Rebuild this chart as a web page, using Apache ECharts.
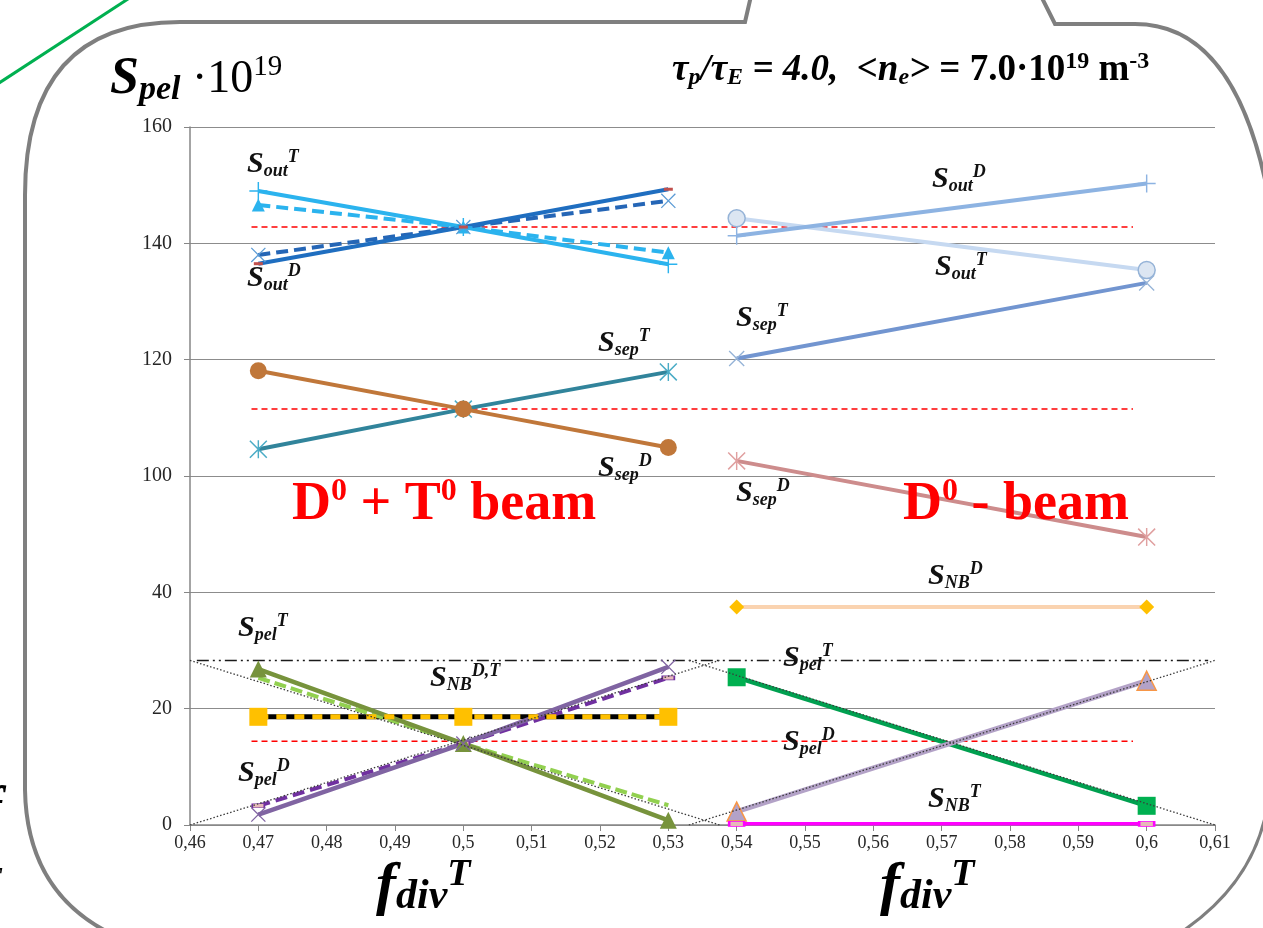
<!DOCTYPE html>
<html>
<head>
<meta charset="utf-8">
<script src="https://cdn.jsdelivr.net/npm/echarts@6/dist/echarts.min.js"></script>
<style>
  html, body { margin: 0; padding: 0; background: #fff; }
  #chart { width: 1263px; height: 928px; }
</style>
</head>
<body>
<div id="chart"></div>
<script>
  // x positions (f_div^T)
  const xDT = [0.47, 0.5, 0.53];   // D0 + T0 beam
  const xD = [0.54, 0.6];          // D0 beam

  // D0 + T0 beam
  const soutT_DT = [149.0, 142.8, 136.4];
  const soutT_DT_dash = [146.6, 142.8, 138.4];
  const soutD_DT = [136.5, 142.8, 149.3];
  const soutD_DT_dash = [138.0, 142.8, 147.3];
  const ssepT_DT = [104.6, 111.5, 117.9];
  const ssepD_DT = [118.1, 111.5, 104.9];
  const snb_DT = [18.6, 18.6, 18.6];
  const spelT_DT = [26.8, 14.0, 0.8];
  const spelT_DT_dash = [25.3, 14.0, 3.4];
  const spelD_DT = [1.8, 14.0, 27.2];
  const spelD_DT_dash = [3.3, 14.0, 25.3];

  // D0 beam
  const soutD_D = [141.3, 150.3];
  const soutT_D = [144.3, 135.4];
  const ssepT_D = [120.2, 133.2];
  const ssepD_D = [102.6, 89.5];
  const snbD_D = [37.5, 37.5];
  const spelT_D = [25.4, 3.3];
  const spelD_D = [2.3, 24.8];
  const snbT_D = [0.2, 0.2];

  // reference levels
  const redLevels = [142.8, 111.5, 14.4];
  const redSpan = [0.469, 0.598];
  const dashDotLevel = 28.3;
  const dashDotSpan = [0.461, 0.609];
  const dotLines = [
    [[0.46, 28.3], [0.5375, 0]],
    [[0.46, 0], [0.5375, 28.3]],
    [[0.533, 28.3], [0.61, 0]],
    [[0.533, 0], [0.61, 28.3]]
  ];

  // y tick labels (axis broken between 40 and 100)
  const yTicks = [0, 20, 40, 100, 120, 140, 160];

  const toAxis = v => v > 40 ? v - 40 : v;
  const pts = (xs, ys) => xs.map((x, i) => [x, toAxis(ys[i])]);

  const PLUS = 'path://M4.6,0H5.4V10H4.6Z M0,4.6H10V5.4H0Z';
  const CROSS = 'path://M0.6,0L10,9.4L9.4,10L0,0.6Z M9.4,0L10,0.6L0.6,10L0,9.4Z';
  const STAR = 'path://M0.6,0L10,9.4L9.4,10L0,0.6Z M9.4,0L10,0.6L0.6,10L0,9.4Z M4.6,0H5.4V10H4.6Z';

  function line(data, color, width, type, symbol, size, itemStyle, z) {
    return {
      type: 'line',
      data: data,
      symbol: symbol || 'none',
      symbolSize: size || 0,
      showAllSymbol: true,
      lineStyle: { color: color, width: width, type: type || 'solid' },
      itemStyle: Object.assign({ color: color }, itemStyle || {}),
      z: z || 2,
      silent: true
    };
  }

  const series = [
    // dotted ideal lines and reference lines
    ...dotLines.map(d => line(d, '#3a3a3a', 1.3, [1.5, 2], 'none', 0, null, 6)),
    ...redLevels.map(v => line(redSpan.map(x => [x, toAxis(v)]), '#ff0000', 1.5, [6, 4], 'none', 0, null, 1)),
    line(dashDotSpan.map(x => [x, toAxis(dashDotLevel)]), '#1a1a1a', 1.5, [12, 4, 2, 4, 2, 4], 'none', 0, null, 1),

    // D0 + T0 beam, S_out
    line(pts(xDT, soutT_DT_dash), '#2bb3ee', 4, [12, 6], 'triangle', 13),
    line(pts(xDT, soutT_DT), '#2bb3ee', 4, 'solid', PLUS, 18),
    line(pts(xDT, soutD_DT_dash), '#2566b6', 4, [12, 6], CROSS, 15, { color: '#5b9bd5' }),
    line(pts(xDT, soutD_DT), '#1f6ec0', 4, 'solid', 'rect', [9, 3], { color: '#c0504d' }),

    // S_sep
    line(pts(xDT, ssepT_DT), '#31849b', 4, 'solid', STAR, 18, { color: '#4bacc6' }),
    line(pts(xDT, ssepD_DT), '#c0773a', 4, 'solid', 'circle', 17),

    // S_NB
    line(pts(xDT, snb_DT), '#000000', 5, 'solid', 'none', 0),
    line(pts(xDT, snb_DT), '#ffc000', 5, [10, 8], 'rect', 18, null, 3),

    // S_pel
    line(pts(xDT, spelT_DT_dash), '#92d050', 4, [12, 5], 'none', 0),
    line(pts(xDT, spelD_DT_dash), '#7030a0', 4, [12, 6], 'rect', [12, 4], { color: '#e6b9b8', borderColor: '#7030a0', borderWidth: 1 }),
    line(pts(xDT, spelT_DT), '#77933c', 4.5, 'solid', 'triangle', 17),
    line(pts(xDT, spelD_DT), '#8064a2', 4.5, 'solid', CROSS, 15),

    // D0 beam
    line(pts(xD, soutT_D), '#c6d9f1', 4, 'solid', 'circle', 17, { color: '#dce6f2', borderColor: '#95b3d7', borderWidth: 1.5 }),
    line(pts(xD, soutD_D), '#8db3e2', 4, 'solid', PLUS, 18),
    line(pts(xD, ssepT_D), '#7295d0', 4, 'solid', CROSS, 16, { color: '#95b3d7' }),
    line(pts(xD, ssepD_D), '#cd8c8c', 4, 'solid', STAR, 18, { color: '#e0a0a0' }),
    line(pts(xD, snbD_D), '#fad3b0', 4, 'solid', 'diamond', 15, { color: '#ffc000' }),
    line(pts(xD, spelT_D), '#00a050', 4.5, 'solid', 'rect', 18, { color: '#00b050' }),
    line(pts(xD, spelD_D), '#b3a2c7', 5, 'solid', 'triangle', 19, { color: '#b3a2c7', borderColor: '#f79646', borderWidth: 1.5 }),
    line(pts(xD, snbT_D), '#ff00ff', 3.5, 'solid', 'rect', [15, 5], { color: '#e6b9b8', borderColor: '#ff00ff', borderWidth: 1.5 })
  ];

  // text helpers
  const SERIF = '"Liberation Serif", "DejaVu Serif", serif';
  function sLabel(left, top, sub, sup) {
    return {
      type: 'text', left: left, top: top, z: 20, silent: true,
      style: {
        text: '{s|S}{b|' + sub + '}{p|' + sup + '}',
        fill: '#111',
        rich: {
          s: { fontFamily: SERIF, fontStyle: 'italic', fontWeight: 'bold', fontSize: 30, lineHeight: 32, fill: '#111' },
          b: { fontFamily: SERIF, fontStyle: 'italic', fontWeight: 'bold', fontSize: 18, lineHeight: 18, verticalAlign: 'bottom', fill: '#111' },
          p: { fontFamily: SERIF, fontStyle: 'italic', fontWeight: 'bold', fontSize: 18, lineHeight: 18, verticalAlign: 'top', fill: '#111' }
        }
      }
    };
  }
  function fLabel(left, top) {
    return {
      type: 'text', left: left, top: top, z: 20, silent: true,
      style: {
        text: '{f|f}{b|div}{p|T}',
        rich: {
          f: { fontFamily: SERIF, fontStyle: 'italic', fontWeight: 'bold', fontSize: 60, lineHeight: 62, fill: '#000' },
          b: { fontFamily: SERIF, fontStyle: 'italic', fontWeight: 'bold', fontSize: 42, lineHeight: 40, verticalAlign: 'bottom', fill: '#000' },
          p: { fontFamily: SERIF, fontStyle: 'italic', fontWeight: 'bold', fontSize: 38, lineHeight: 36, verticalAlign: 'top', fill: '#000' }
        }
      }
    };
  }
  function beam(left, top, text) {
    return {
      type: 'text', left: left, top: top, z: 20, silent: true,
      style: {
        text: text,
        rich: {
          a: { fontFamily: SERIF, fontWeight: 'bold', fontSize: 54, lineHeight: 58, fill: '#ff0000' },
          p: { fontFamily: SERIF, fontWeight: 'bold', fontSize: 32, lineHeight: 34, verticalAlign: 'top', fill: '#ff0000' }
        }
      }
    };
  }

  const labels = [
    sLabel(247, 148, 'out', 'T'),
    sLabel(247, 262, 'out', 'D'),
    sLabel(932, 163, 'out', 'D'),
    sLabel(935, 251, 'out', 'T'),
    sLabel(598, 327, 'sep', 'T'),
    sLabel(598, 452, 'sep', 'D'),
    sLabel(736, 302, 'sep', 'T'),
    sLabel(736, 477, 'sep', 'D'),
    sLabel(928, 560, 'NB', 'D'),
    sLabel(238, 612, 'pel', 'T'),
    sLabel(430, 662, 'NB', 'D,T'),
    sLabel(238, 757, 'pel', 'D'),
    sLabel(783, 642, 'pel', 'T'),
    sLabel(783, 726, 'pel', 'D'),
    sLabel(928, 783, 'NB', 'T')
  ];

  const frameStyle = { fill: 'none', stroke: '#7f7f7f', lineWidth: 4 };
  const frame = [
    { type: 'bezierCurve', z: 0, silent: true, shape: { x1: 125, y1: 940, cpx1: 27, cpy1: 900, x2: 25, y2: 790 }, style: frameStyle },
    { type: 'line', z: 0, silent: true, shape: { x1: 25, y1: 790, x2: 25, y2: 195 }, style: frameStyle },
    { type: 'bezierCurve', z: 0, silent: true, shape: { x1: 25, y1: 195, cpx1: 25, cpy1: 22, x2: 180, y2: 22 }, style: frameStyle },
    { type: 'polyline', z: 0, silent: true, shape: { points: [[180, 22], [745, 22], [751, -4]] }, style: frameStyle },
    { type: 'polyline', z: 0, silent: true, shape: { points: [[1041, -4], [1055, 24], [1135, 24]] }, style: frameStyle },
    { type: 'bezierCurve', z: 0, silent: true, shape: { x1: 1135, y1: 24, cpx1: 1245, cpy1: 24, x2: 1274, y2: 230 }, style: frameStyle },
    { type: 'bezierCurve', z: 0, silent: true, shape: { x1: 1270, y1: 780, cpx1: 1266, cpy1: 880, x2: 1172, y2: 938 }, style: { fill: 'none', stroke: '#7f7f7f', lineWidth: 3 } },
    { type: 'line', z: 0, silent: true, shape: { x1: -4, y1: 85, x2: 131, y2: -3 }, style: { stroke: '#00b050', lineWidth: 3 } }
  ];

  const headers = [
    {
      type: 'text', left: 110, top: 53, z: 20, silent: true,
      style: {
        text: '{s|S}{b|pel}{r| ·10}{p|19}',
        rich: {
          s: { fontFamily: SERIF, fontStyle: 'italic', fontWeight: 'bold', fontSize: 52, lineHeight: 54, fill: '#000' },
          b: { fontFamily: SERIF, fontStyle: 'italic', fontWeight: 'bold', fontSize: 34, lineHeight: 30, verticalAlign: 'bottom', fill: '#000' },
          r: { fontFamily: SERIF, fontSize: 46, lineHeight: 54, fill: '#000' },
          p: { fontFamily: SERIF, fontSize: 29, lineHeight: 24, verticalAlign: 'top', fill: '#000' }
        }
      }
    },
    {
      type: 'text', left: 672, top: 50, z: 20, silent: true,
      style: {
        text: '{i|τ}{ib|p}{i|/τ}{ib|E}{i| = 4.0,  <n}{ib|e}{i|>}{n| = 7.0·10}{np|19}{n| m}{np|-3}',
        rich: {
          i: { fontFamily: SERIF, fontStyle: 'italic', fontWeight: 'bold', fontSize: 37, lineHeight: 40, fill: '#000' },
          ib: { fontFamily: SERIF, fontStyle: 'italic', fontWeight: 'bold', fontSize: 24, lineHeight: 21, verticalAlign: 'bottom', fill: '#000' },
          n: { fontFamily: SERIF, fontWeight: 'bold', fontSize: 37, lineHeight: 40, fill: '#000' },
          np: { fontFamily: SERIF, fontWeight: 'bold', fontSize: 24, lineHeight: 21, verticalAlign: 'top', fill: '#000' }
        }
      }
    },
    beam(292, 476, '{a|D}{p|0}{a| + T}{p|0}{a| beam}'),
    beam(903, 476, '{a|D}{p|0}{a| - beam}'),
    fLabel(376, 856),
    fLabel(880, 856),
    // fragments of neighbouring slide text cut by the left edge
    { type: 'text', x: -17, y: 784, z: 20, silent: true,
      style: { text: 'f', font: 'italic bold 56px "Liberation Serif"', fill: '#000' } },
    { type: 'text', x: -17, y: 864, z: 20, silent: true,
      style: { text: 'T', font: 'italic bold 30px "Liberation Serif"', fill: '#000' } }
  ];

  const chart = echarts.init(document.getElementById('chart'));
  chart.setOption({
    animation: false,
    backgroundColor: '#ffffff',
    grid: { left: 190, right: 48, top: 127, bottom: 103, containLabel: false },
    xAxis: {
      type: 'value', min: 0.46, max: 0.61, interval: 0.01,
      axisLine: { show: true, onZero: false, lineStyle: { color: '#868686', width: 1.5 } },
      axisTick: { show: true, length: 6, lineStyle: { color: '#868686' } },
      splitLine: { show: false },
      axisLabel: {
        margin: 9, fontFamily: SERIF, fontSize: 18, color: '#262626',
        showMinLabel: true, showMaxLabel: true,
        formatter: v => String(+v.toFixed(2)).replace('.', ',')
      }
    },
    yAxis: {
      type: 'value', min: 0, max: 120, interval: 20,
      axisLine: { show: true, lineStyle: { color: '#868686', width: 1.5 } },
      axisTick: { show: true, length: 6, lineStyle: { color: '#868686' } },
      splitLine: { show: true, lineStyle: { color: '#8c8c8c', width: 1.2 } },
      axisLabel: {
        margin: 18, fontFamily: SERIF, fontSize: 20, color: '#262626',
        formatter: v => String(yTicks[Math.round(v / 20)])
      }
    },
    series: series,
    graphic: [...frame, ...labels, ...headers]
  });
</script>
</body>
</html>
